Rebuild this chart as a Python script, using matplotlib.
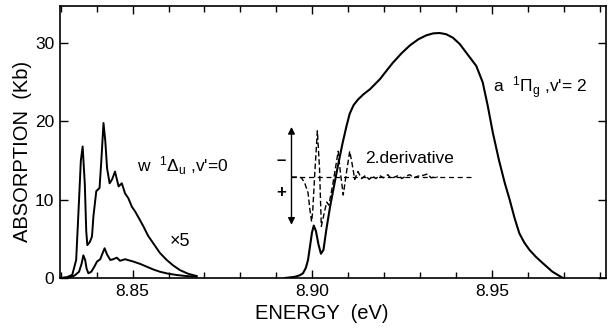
import numpy as np
import matplotlib
matplotlib.use('Agg')
import matplotlib.pyplot as plt
from matplotlib.ticker import MultipleLocator

plt.rcParams['font.family'] = ['Liberation Sans', 'DejaVu Sans']
plt.rcParams['mathtext.fontset'] = 'custom'
plt.rcParams['mathtext.rm'] = 'Liberation Sans'
plt.rcParams['mathtext.it'] = 'Liberation Sans'

# w 1Delta_u, v'=0 band, scaled x5
w5_x = [8.8299, 8.8317, 8.8332, 8.8343, 8.8351, 8.8356, 8.8361, 8.8367, 8.8371, 8.8374,
        8.8381, 8.8387, 8.8391, 8.8399, 8.8408, 8.8413, 8.8419, 8.8424, 8.8429, 8.8436,
        8.8443, 8.8451, 8.8461, 8.8470, 8.8479, 8.8488, 8.8498, 8.8507, 8.8518, 8.8530,
        8.8543, 8.8558, 8.8576, 8.8595, 8.8613, 8.8632, 8.8654, 8.8678]
w5_y = [0, 0.1, 0.4, 2.3, 10, 15, 16.8, 12, 6, 4.2,
        4.6, 5.3, 7.9, 11.1, 11.5, 15, 19.8, 17.5, 14, 12.1,
        12.6, 13.6, 11.7, 12.1, 10.8, 10.2, 9.1, 8.5, 7.6, 6.6,
        5.4, 4.4, 3.2, 2.3, 1.6, 1.0, 0.55, 0.25]

# same band, unscaled
w1_x = [8.8299, 8.8321, 8.8338, 8.8351, 8.8358, 8.8363, 8.8368, 8.8372, 8.8377, 8.8385,
        8.8393, 8.8401, 8.8410, 8.8415, 8.8422, 8.8429, 8.8438, 8.8446, 8.8456, 8.8465,
        8.8479, 8.8502, 8.8521, 8.8539, 8.8557, 8.8576, 8.8599, 8.8623, 8.8649, 8.8678]
w1_y = [0, 0.05, 0.3, 0.8, 1.8, 2.9, 2.3, 1.2, 0.6, 0.8,
        1.4, 2.1, 2.4, 3.0, 3.8, 3.0, 2.3, 2.4, 2.6, 2.2,
        2.4, 2.1, 1.8, 1.45, 1.1, 0.8, 0.55, 0.38, 0.25, 0.17]

# a 1Pi_g, v'=2 band
a_x = [8.8924, 8.8933, 8.8951, 8.8965, 8.8974, 8.8982, 8.8988, 8.8994, 8.8999, 8.9004,
       8.9010, 8.9017, 8.9024, 8.9031, 8.9039, 8.9049, 8.9058, 8.9071, 8.9084, 8.9095,
       8.9104, 8.9115, 8.9127, 8.9143, 8.9160, 8.9188, 8.9205, 8.9224, 8.9248, 8.9271,
       8.9295, 8.9317, 8.9336, 8.9354, 8.9372, 8.9391, 8.9410, 8.9428, 8.9456, 8.9474,
       8.9488, 8.9502, 8.9519, 8.9535, 8.9549, 8.9563, 8.9576, 8.9590, 8.9604, 8.9622,
       8.9641, 8.9668, 8.9697]
a_y = [0, 0.05, 0.15, 0.35, 0.6, 1.3, 2.3, 4.2, 5.8, 6.7,
       6.0, 4.3, 3.1, 3.6, 6.2, 9.0, 11.2, 14.3, 17.2, 19.4,
       21.0, 22.1, 22.8, 23.5, 24.1, 25.4, 26.4, 27.5, 28.7, 29.7,
       30.5, 31.0, 31.25, 31.3, 31.15, 30.7, 29.9, 28.8, 27.1, 25.0,
       22.0, 18.6, 15.1, 12.2, 10.0, 7.6, 5.7, 4.5, 3.6, 2.7,
       1.9, 0.8, 0]

# second derivative trace (offset onto the reference level)
d2_x = [8.8942, 8.8960, 8.8970, 8.8979, 8.8988, 8.8993, 8.8998, 8.9001, 8.9007, 8.9014,
        8.9020, 8.9025, 8.9035, 8.9040, 8.9046, 8.9057, 8.9072, 8.9078, 8.9086, 8.9095,
        8.9104, 8.9111, 8.9118, 8.9127, 8.9137, 8.9148, 8.9158, 8.9168, 8.9177, 8.9187,
        8.9198, 8.9210, 8.9219, 8.9229, 8.9240, 8.9249, 8.9260, 8.9271, 8.9282, 8.9293,
        8.9307, 8.9321, 8.9330, 8.9340, 8.9349]
d2_y = [12.9, 12.9, 12.8, 12.1, 10.9, 8.8, 7.2, 8.5, 13.5, 18.8,
        14.0, 6.6, 8.7, 9.7, 9.3, 12.0, 16.2, 13.5, 10.6, 13.5,
        16.2, 14.5, 12.6, 13.6, 12.7, 13.1, 12.6, 13.0, 12.7, 13.1,
        12.8, 13.2, 12.7, 12.9, 13.1, 12.7, 13.0, 13.2, 12.8, 13.0,
        13.1, 13.3, 12.8, 12.9, 12.9]
ref_x = [8.8942, 8.9451]
ref_level = 12.9
arrow_y = [19.3, 6.8]

fig = plt.figure(figsize=(6.1, 3.31), dpi=100)
ax = fig.add_axes([60/610, 53/331, 546/610, 272/331])

ax.plot(w5_x, w5_y, color='black', lw=1.4)
ax.plot(w1_x, w1_y, color='black', lw=1.4)
ax.plot(a_x, a_y, color='black', lw=1.5)
ax.plot(d2_x, d2_y, color='black', lw=1.0, ls=(0, (4, 2)))
ax.plot(ref_x, [ref_level, ref_level], color='black', lw=0.9, ls=(0, (4, 3)))

ax.annotate('', xy=(ref_x[0], arrow_y[1]), xytext=(ref_x[0], arrow_y[0]),
            arrowprops=dict(arrowstyle='<|-|>', color='black', lw=1.0,
                            mutation_scale=10, shrinkA=0, shrinkB=0))
ax.text(8.8914, 15.0, '\u2013', fontsize=12, fontweight='bold', ha='center', va='center')
ax.text(8.8914, 10.9, '+', fontsize=12, fontweight='bold', ha='center', va='center')

ax.text(8.8512, 14.4, r"w  $^{1}\Delta_{\mathrm{u}}$ ,v'=0", fontsize=12.5, va='center')
ax.text(8.8603, 4.6, '\u00d75', fontsize=13, va='center')
ax.text(8.9146, 15.3, '2.derivative', fontsize=12.5, va='center')
ax.text(8.9502, 24.3, r"a  $^{1}\Pi_{\mathrm{g}}$ ,v'= 2", fontsize=12.5, va='center')

ax.set_xlim(8.8298, 8.9817)
ax.set_ylim(0, 34.75)
ax.xaxis.set_minor_locator(MultipleLocator(0.01))
ax.set_xticks([8.85, 8.90, 8.95])
ax.set_xticklabels(['8.85', '8.90', '8.95'])
ax.set_yticks([0, 10, 20, 30])
ax.tick_params(which='both', direction='in', top=True, right=True, width=1.0)
ax.tick_params(which='major', length=6, labelsize=12.5, pad=4)
ax.tick_params(which='minor', length=4)
for s in ax.spines.values():
    s.set_linewidth(1.2)

ax.set_xlabel('ENERGY  (eV)', fontsize=14.5)
ax.set_ylabel('ABSORPTION  (Kb)', fontsize=14.5)
ax.yaxis.set_label_coords(-0.052, 0.465)
ax.xaxis.set_label_coords(0.48, -0.095)

fig.savefig('out.png', dpi=100)
